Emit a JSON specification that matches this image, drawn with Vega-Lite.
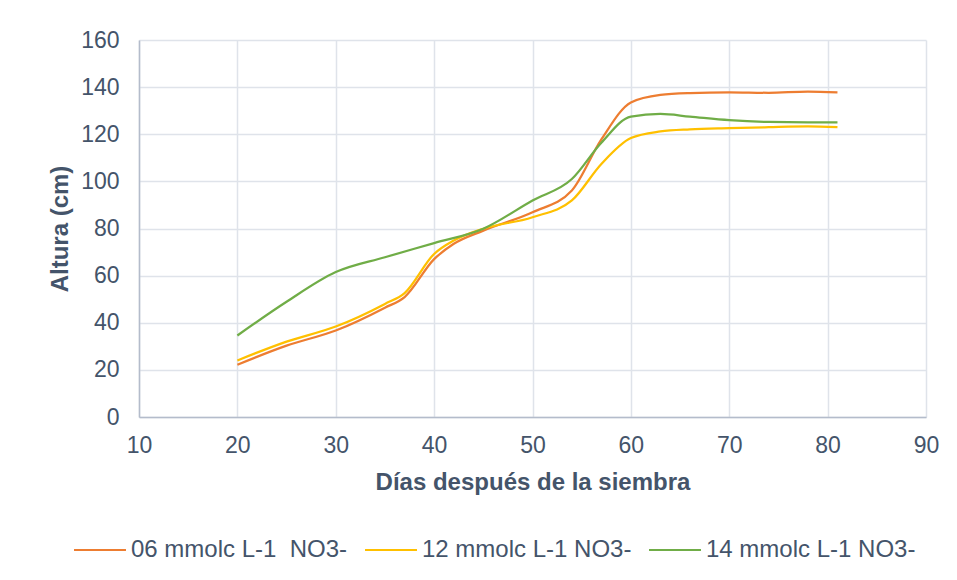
{
  "$schema": "https://vega.github.io/schema/vega-lite/v6.json",
  "width": 787,
  "height": 377,
  "autosize": {"type": "none"},
  "padding": {"left": 139, "top": 40, "right": 31, "bottom": 163},
  "background": "white",
  "data": {
    "values": [
      {"day": 20, "height": 22.2, "series": "06 mmolc L-1  NO3-"},
      {"day": 25, "height": 30.3, "series": "06 mmolc L-1  NO3-"},
      {"day": 30, "height": 36.7, "series": "06 mmolc L-1  NO3-"},
      {"day": 35, "height": 46.4, "series": "06 mmolc L-1  NO3-"},
      {"day": 37, "height": 50.9, "series": "06 mmolc L-1  NO3-"},
      {"day": 40, "height": 67.0, "series": "06 mmolc L-1  NO3-"},
      {"day": 42, "height": 73.5, "series": "06 mmolc L-1  NO3-"},
      {"day": 45, "height": 79.1, "series": "06 mmolc L-1  NO3-"},
      {"day": 50, "height": 86.9, "series": "06 mmolc L-1  NO3-"},
      {"day": 54, "height": 96.1, "series": "06 mmolc L-1  NO3-"},
      {"day": 57, "height": 117.8, "series": "06 mmolc L-1  NO3-"},
      {"day": 60, "height": 133.5, "series": "06 mmolc L-1  NO3-"},
      {"day": 63, "height": 136.7, "series": "06 mmolc L-1  NO3-"},
      {"day": 66, "height": 137.5, "series": "06 mmolc L-1  NO3-"},
      {"day": 70, "height": 137.8, "series": "06 mmolc L-1  NO3-"},
      {"day": 74, "height": 137.6, "series": "06 mmolc L-1  NO3-"},
      {"day": 78, "height": 138.1, "series": "06 mmolc L-1  NO3-"},
      {"day": 81, "height": 137.8, "series": "06 mmolc L-1  NO3-"},
      {"day": 20, "height": 24.0, "series": "12 mmolc L-1 NO3-"},
      {"day": 25, "height": 32.0, "series": "12 mmolc L-1 NO3-"},
      {"day": 30, "height": 38.4, "series": "12 mmolc L-1 NO3-"},
      {"day": 35, "height": 48.0, "series": "12 mmolc L-1 NO3-"},
      {"day": 37, "height": 52.6, "series": "12 mmolc L-1 NO3-"},
      {"day": 40, "height": 69.2, "series": "12 mmolc L-1 NO3-"},
      {"day": 42, "height": 74.9, "series": "12 mmolc L-1 NO3-"},
      {"day": 45, "height": 79.9, "series": "12 mmolc L-1 NO3-"},
      {"day": 50, "height": 84.8, "series": "12 mmolc L-1 NO3-"},
      {"day": 54, "height": 91.9, "series": "12 mmolc L-1 NO3-"},
      {"day": 57, "height": 107.4, "series": "12 mmolc L-1 NO3-"},
      {"day": 60, "height": 118.4, "series": "12 mmolc L-1 NO3-"},
      {"day": 63, "height": 121.2, "series": "12 mmolc L-1 NO3-"},
      {"day": 66, "height": 122.1, "series": "12 mmolc L-1 NO3-"},
      {"day": 70, "height": 122.6, "series": "12 mmolc L-1 NO3-"},
      {"day": 74, "height": 123.0, "series": "12 mmolc L-1 NO3-"},
      {"day": 78, "height": 123.3, "series": "12 mmolc L-1 NO3-"},
      {"day": 81, "height": 123.0, "series": "12 mmolc L-1 NO3-"},
      {"day": 20, "height": 34.6, "series": "14 mmolc L-1 NO3-"},
      {"day": 25, "height": 48.9, "series": "14 mmolc L-1 NO3-"},
      {"day": 30, "height": 61.5, "series": "14 mmolc L-1 NO3-"},
      {"day": 35, "height": 67.8, "series": "14 mmolc L-1 NO3-"},
      {"day": 40, "height": 73.8, "series": "14 mmolc L-1 NO3-"},
      {"day": 45, "height": 79.9, "series": "14 mmolc L-1 NO3-"},
      {"day": 50, "height": 91.9, "series": "14 mmolc L-1 NO3-"},
      {"day": 54, "height": 101.0, "series": "14 mmolc L-1 NO3-"},
      {"day": 57, "height": 116.4, "series": "14 mmolc L-1 NO3-"},
      {"day": 60, "height": 127.5, "series": "14 mmolc L-1 NO3-"},
      {"day": 63, "height": 128.6, "series": "14 mmolc L-1 NO3-"},
      {"day": 66, "height": 127.5, "series": "14 mmolc L-1 NO3-"},
      {"day": 70, "height": 126.0, "series": "14 mmolc L-1 NO3-"},
      {"day": 74, "height": 125.2, "series": "14 mmolc L-1 NO3-"},
      {"day": 78, "height": 125.0, "series": "14 mmolc L-1 NO3-"},
      {"day": 81, "height": 125.0, "series": "14 mmolc L-1 NO3-"}
    ]
  },
  "mark": {"type": "line", "interpolate": "monotone", "strokeWidth": 2.25},
  "encoding": {
    "x": {
      "field": "day",
      "type": "quantitative",
      "scale": {"domain": [10, 90], "nice": false, "zero": false},
      "axis": {
        "title": "Días después de la siembra",
        "values": [10, 20, 30, 40, 50, 60, 70, 80, 90],
        "ticks": false,
        "labelFlush": false,
        "labelPadding": 17,
        "titlePadding": 13,
        "labelFontSize": 23,
        "titleFontSize": 24,
        "domainColor": "#b4bccb",
        "domainWidth": 1.5
      }
    },
    "y": {
      "field": "height",
      "type": "quantitative",
      "scale": {"domain": [0, 160], "nice": false},
      "axis": {
        "title": "Altura (cm)",
        "values": [0, 20, 40, 60, 80, 100, 120, 140, 160],
        "ticks": false,
        "labelFlush": false,
        "labelPadding": 20,
        "titlePadding": 8,
        "labelFontSize": 23,
        "titleFontSize": 24,
        "domainColor": "#b4bccb",
        "domainWidth": 1.5
      }
    },
    "color": {
      "field": "series",
      "type": "nominal",
      "scale": {
        "domain": ["06 mmolc L-1  NO3-", "12 mmolc L-1 NO3-", "14 mmolc L-1 NO3-"],
        "range": ["#ED7D31", "#FFC000", "#70AD47"]
      },
      "legend": {
        "title": null,
        "orient": "none",
        "direction": "horizontal",
        "legendX": -66,
        "legendY": 483,
        "symbolType": "stroke",
        "symbolSize": 2700,
        "symbolStrokeWidth": 2,
        "labelFontSize": 24,
        "labelLimit": 0,
        "labelExpr": "replace(datum.label, '  ', ' \u00a0')",
        "labelColor": "#44546A",
        "labelFont": "Liberation Sans",
        "labelOffset": 4,
        "columnPadding": 13
      }
    }
  },
  "config": {
    "view": {"stroke": null},
    "font": "Liberation Sans",
    "axis": {
      "gridColor": "#dfe3ea",
      "gridWidth": 1.5,
      "labelColor": "#44546A",
      "titleColor": "#44546A",
      "labelFont": "Liberation Sans",
      "titleFont": "Liberation Sans",
      "titleFontWeight": "bold"
    }
  }
}
